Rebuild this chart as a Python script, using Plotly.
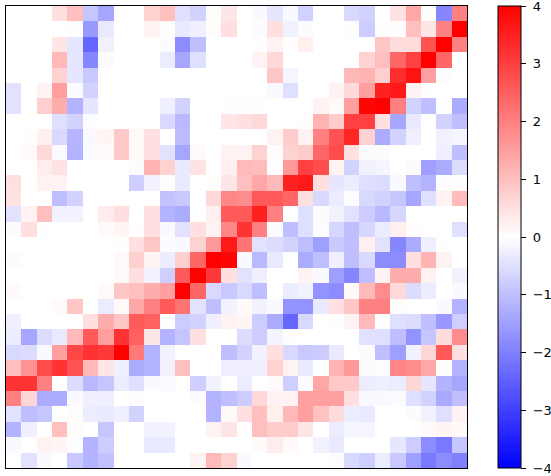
import plotly.graph_objects as go

row_00 = [0,0,0,.5,1.0,-.9,-1.4,0,0,.7,1.0,-.5,-.7,.05,.4,0,-.1,-.4,-.1,-.7,0,0,-.6,-.7,0,.45,1.4,.05,-1.9,2.0]
row_01 = [0,0,0,0,-.02,-1.6,-.35,0,0,.2,.05,-.35,-.25,.05,.5,0,-.05,.5,-.2,-.05,0,0,-.02,-.8,.03,.05,1.0,.4,2.0,4.0]
row_02 = [0,0,0,.4,-.4,-2.4,-.2,0,0,0,-.05,-1.8,-1.0,0,0,0,.03,.2,.03,.25,0,0,0,0,.9,.55,.55,2.7,4.0,2.0]
row_03 = [0,0,0,1.1,-.4,-1.9,-.05,0,0,0,-.3,-1.4,-.5,0,0,0,.2,.6,0,0,0,0,0,.7,1.0,2.4,3.0,4.0,2.4,0]
row_04 = [0,0,0,.7,-.4,-.85,0,0,0,0,0,0,0,0,0,0,0,.9,-.15,0,0,0,1.1,1.2,.75,3.3,3.7,1.5,-.03,0]
row_05 = [-.45,0,.2,1.5,-.05,-.7,0,0,0,0,0,0,0,0,0,0,0,-.1,-.5,0,0,.2,.6,1.5,3.5,3.6,.2,-.02,0,0]
row_06 = [-.45,0,.75,1.3,-1.2,-.4,0,0,0,0,-.25,-.7,0,0,.02,.03,.03,0,0,0,.2,.1,1.5,3.9,4.0,2.0,-.7,-1.0,0,-1.3]
row_07 = [0,0,0,-.5,-.7,-.03,0,0,0,0,-.6,-1.1,0,0,.4,.5,.6,0,0,.03,1.2,.8,3.0,3.0,.5,-1.4,-.35,0,-.7,-1.0]
row_08 = [0,.03,.25,-.6,-1.15,-.1,.15,.85,.1,.5,0,-1.05,0,0,0,0,0,.2,.8,.2,2.0,2.7,3.4,.7,-1.3,-.7,-.25,0,-.2,-.15]
row_09 = [0,.1,.6,-.08,-1.2,-.08,.08,.85,.1,.5,-.45,-1.4,.08,0,.2,.2,.7,.05,.7,.8,2.4,2.8,.5,-.05,-.05,0,0,0,-.25,-1.0]
row_10 = [0,0,.3,.45,0,0,0,0,-.05,1.2,.7,-.35,.45,0,.25,1.1,1.05,0,1.6,3.0,2.8,.2,-.7,-.2,-.15,0,-.05,-1.5,-1.3,-.55]
row_11 = [.5,0,.2,.2,0,0,0,0,-.75,-.2,.02,-.35,0,.05,.4,1.0,1.4,1.1,3.5,3.6,.5,-.4,-.3,-.5,-.55,-.1,-1.0,-1.2,-.03,.05]
row_12 = [.45,0,0,-1.0,-.7,0,0,0,0,0,-.95,-.85,0,.6,1.9,1.8,2.6,2.6,2.4,.5,-.6,-.3,-.03,-.6,-.7,-.9,-1.4,-.5,.2,1.05]
row_13 = [-.45,.2,1.0,-.2,-.2,0,.3,.5,0,.5,-1.2,-1.3,0,.25,2.6,2.6,3.5,2.0,0,-.5,-.05,-.2,-.45,-.8,-1.1,-.65,0,0,0,0]
row_14 = [-.05,.5,.02,0,0,0,.1,.15,.03,.5,-.1,-.45,.5,.2,1.9,3.2,2.0,-.05,-1.0,-.5,-.03,-.65,-1.0,-.65,-.3,.25,.03,0,0,-.5]
row_15 = [0,0,0,0,0,0,0,.02,.5,.9,-.05,-.1,.7,1.6,3.6,2.2,-.45,-.55,-.7,-1.0,-1.5,-.85,-1.0,.25,-.45,-1.9,-1.3,-.25,.02,0]
row_16 = [-.05,0,0,0,0,0,0,.1,.75,.15,-.3,.75,2.4,4.0,3.9,-.1,-1.1,-.35,0,-1.3,-1.0,-.25,-1.0,-.6,-1.8,-1.8,.5,1.2,.2,0]
row_17 = [0,0,0,0,0,0,0,.1,.5,-.2,-.75,2.6,4.0,3.1,.5,-.45,-.25,0,0,.2,-.1,-1.5,-1.9,-1.0,.2,1.3,1.3,.2,0,-.2]
row_18 = [.1,0,0,0,0,0,.1,.9,1.0,1.3,1.5,4.0,2.4,-.6,-.85,-.6,-1.0,0,-.3,-.2,-1.7,-1.8,.1,1.1,1.8,.6,-.55,-.3,0,-.1]
row_19 = [0,0,0,.1,.9,0,-.3,.1,1.4,2.0,2.6,2.2,-.45,-1.0,-.2,.1,-.2,-.1,-1.7,-1.7,-.35,.5,.9,2.0,2.0,.05,0,0,-.1,-1.2]
row_20 = [-.25,0,0,0,0,.5,1.3,.9,2.6,2.5,.03,-.8,-.7,-.25,.2,.15,-.8,-1.3,-2.4,-.6,0,.02,.2,1.1,0,-.5,-.55,-1.0,-1.6,-.75]
row_21 = [-.3,-1.4,-.55,-.35,1.1,2.6,1.5,3.2,2.5,.4,-1.2,-.9,.5,0,0,-.55,-.8,-.18,-.03,0,0,0,0,-.45,-.5,-1.0,-1.7,-.9,.55,1.8]
row_22 = [-.6,-.55,-.1,1.5,2.9,3.2,3.1,4.0,2.1,-1.2,-.2,0,0,0,-1.0,-.7,-.2,.5,-.6,-.85,-.8,-.35,0,-.05,-1.0,-1.5,-.2,.65,2.6,.5]
row_23 = [1.0,1.7,2.8,3.2,2.7,1.1,.4,-.25,-1.3,-1.2,-.2,1.0,0,0,-.25,-.25,-.25,.7,.2,-.35,0,1.2,1.6,-.05,-.03,1.9,1.8,1.4,-.02,-1.2]
row_24 = [3.2,3.2,2.0,0,-.55,-1.1,-.9,-.3,-.5,-.1,-.08,0,-.75,-.2,0,-.3,0,.1,-.75,-.05,1.4,.85,.85,-.3,-.25,-.3,.65,-.4,-1.2,-1.4]
row_25 = [2.0,.65,-1.3,-1.3,-.1,-.25,-.25,0,-.03,0,0,0,-.05,-1.2,-1.0,-.8,.6,.2,.2,1.5,1.5,1.5,.5,-.1,-.1,-.05,-.5,-.7,-1.35,-1.0]
row_26 = [-.45,-1.0,-.9,0,.05,-.3,-.35,-.25,-.7,0,0,0,0,-1.2,.1,.5,1.0,.25,1.1,1.5,.95,.55,-.3,-.35,0,0,-.05,-.2,-.5,.2]
row_27 = [-1.2,-.25,0,1.0,.05,0,-.9,0,0,-.2,-.2,0,0,.2,.4,0,1.0,.8,.8,.4,0,-.3,-.15,-.15,0,0,0,.1,.15,.1]
row_28 = [-.1,0,.2,.15,-.03,-1.2,-.8,0,0,-.35,-.35,0,0,0,0,0,.1,.3,.1,0,-.2,-.35,0,0,0,-.4,-.8,-1.8,-2.1,-.9]
row_29 = [0,-.45,-.1,0,-.85,-1.2,-.95,0,0,0,0,0,.2,1.1,.7,-.1,0,0,0,0,0,-.05,-.6,-.75,-.3,-.85,-1.5,-2.1,-1.8,-2.0]

values = [row_00, row_01, row_02, row_03, row_04, row_05, row_06, row_07, row_08, row_09,
          row_10, row_11, row_12, row_13, row_14, row_15, row_16, row_17, row_18, row_19,
          row_20, row_21, row_22, row_23, row_24, row_25, row_26, row_27, row_28, row_29]
assert all(len(r) == 30 for r in values), [len(r) for r in values]

colorbar_ticks = [-4, -3, -2, -1, 0, 1, 2, 3, 4]
colorbar_labels = ["\u22124", "\u22123", "\u22122", "\u22121", "0", "1", "2", "3", "4"]
bwr = [[0, "#0000ff"], [0.5, "#ffffff"], [1, "#ff0000"]]

W, H = 551, 476
L, R, T, B = 5.5, 467.5, 6, 468.5

fig = go.Figure(go.Heatmap(
    z=values, zmin=-4, zmax=4, colorscale=bwr, zsmooth=False, hoverinfo="skip",
    colorbar=dict(
        tickmode="array", tickvals=colorbar_ticks,
        ticktext=["\u00a0" + s for s in colorbar_labels],
        ticks="outside", ticklen=5, tickwidth=1, tickcolor="black",
        ticklabeloverflow="allow",
        tickfont=dict(family="DejaVu Sans", size=13, color="black"),
        outlinecolor="black", outlinewidth=1,
        thicknessmode="pixels", thickness=23,
        lenmode="fraction", len=1, y=0, yanchor="bottom", ypad=0,
        x=(498.5 - L) / (R - L), xanchor="left", xpad=0,
    ),
))
fig.update_layout(
    width=W, height=H, paper_bgcolor="white", plot_bgcolor="white",
    margin=dict(l=L, r=W - R, t=T, b=H - B, autoexpand=False),
    font=dict(family="DejaVu Sans", color="black"),
)
axis = dict(showticklabels=False, ticks="", showgrid=False, zeroline=False,
            showline=True, linecolor="black", linewidth=1, mirror=True)
fig.update_xaxes(range=[-0.5, 29.5], **axis)
fig.update_yaxes(range=[29.5, -0.5], **axis)
fig.write_html("out.html", config={"displayModeBar": False},
               post_script="document.body.style.margin='0';document.documentElement.style.overflow='hidden';")
